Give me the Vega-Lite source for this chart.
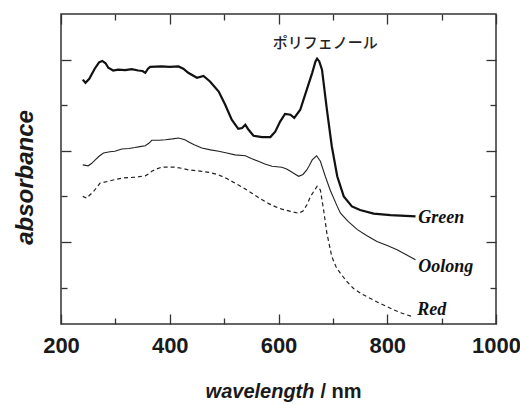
{
  "$schema": "https://vega.github.io/schema/vega-lite/v6.json",
  "width": 435,
  "height": 310,
  "autosize": {"type": "none"},
  "padding": {"left": 61, "top": 14, "right": 24, "bottom": 81},
  "background": "white",
  "config": {
    "view": {"stroke": "#333333", "strokeWidth": 1.5},
    "axis": {"grid": false, "domain": false, "tickColor": "#333333", "tickWidth": 1.3, "labelFlush": false, "labelOverlap": false, "labelBound": false}
  },
  "datasets": {
    "spectra": [
      {"series":"Green","wl":240,"abs":5.36},{"series":"Green","wl":245,"abs":5.29},{"series":"Green","wl":252,"abs":5.38},{"series":"Green","wl":262,"abs":5.6},{"series":"Green","wl":270,"abs":5.74},{"series":"Green","wl":276,"abs":5.77},{"series":"Green","wl":282,"abs":5.72},{"series":"Green","wl":287,"abs":5.62},{"series":"Green","wl":296,"abs":5.56},{"series":"Green","wl":305,"abs":5.58},{"series":"Green","wl":318,"abs":5.57},{"series":"Green","wl":330,"abs":5.59},{"series":"Green","wl":342,"abs":5.56},{"series":"Green","wl":350,"abs":5.55},{"series":"Green","wl":355,"abs":5.51},{"series":"Green","wl":360,"abs":5.6},{"series":"Green","wl":364,"abs":5.64},{"series":"Green","wl":385,"abs":5.65},{"series":"Green","wl":400,"abs":5.64},{"series":"Green","wl":416,"abs":5.65},{"series":"Green","wl":425,"abs":5.6},{"series":"Green","wl":434,"abs":5.51},{"series":"Green","wl":450,"abs":5.4},{"series":"Green","wl":462,"abs":5.44},{"series":"Green","wl":474,"abs":5.32},{"series":"Green","wl":490,"abs":5.1},{"series":"Green","wl":502,"abs":4.81},{"series":"Green","wl":514,"abs":4.48},{"series":"Green","wl":526,"abs":4.28},{"series":"Green","wl":533,"abs":4.3},{"series":"Green","wl":539,"abs":4.37},{"series":"Green","wl":545,"abs":4.26},{"series":"Green","wl":554,"abs":4.13},{"series":"Green","wl":570,"abs":4.1},{"series":"Green","wl":585,"abs":4.1},{"series":"Green","wl":594,"abs":4.22},{"series":"Green","wl":603,"abs":4.44},{"series":"Green","wl":612,"abs":4.61},{"series":"Green","wl":622,"abs":4.59},{"series":"Green","wl":629,"abs":4.52},{"series":"Green","wl":640,"abs":4.7},{"series":"Green","wl":652,"abs":5.14},{"series":"Green","wl":662,"abs":5.51},{"series":"Green","wl":668,"abs":5.76},{"series":"Green","wl":671,"abs":5.82},{"series":"Green","wl":675,"abs":5.76},{"series":"Green","wl":680,"abs":5.58},{"series":"Green","wl":689,"abs":4.7},{"series":"Green","wl":698,"abs":3.9},{"series":"Green","wl":708,"abs":3.24},{"series":"Green","wl":720,"abs":2.8},{"series":"Green","wl":735,"abs":2.58},{"series":"Green","wl":750,"abs":2.5},{"series":"Green","wl":775,"abs":2.42},{"series":"Green","wl":806,"abs":2.39},{"series":"Green","wl":852,"abs":2.36},
      {"series":"Oolong","wl":240,"abs":3.49},{"series":"Oolong","wl":250,"abs":3.47},{"series":"Oolong","wl":256,"abs":3.52},{"series":"Oolong","wl":263,"abs":3.6},{"series":"Oolong","wl":270,"abs":3.68},{"series":"Oolong","wl":278,"abs":3.75},{"series":"Oolong","wl":290,"abs":3.78},{"series":"Oolong","wl":299,"abs":3.79},{"series":"Oolong","wl":312,"abs":3.84},{"series":"Oolong","wl":325,"abs":3.85},{"series":"Oolong","wl":336,"abs":3.87},{"series":"Oolong","wl":345,"abs":3.89},{"series":"Oolong","wl":355,"abs":3.91},{"series":"Oolong","wl":362,"abs":3.97},{"series":"Oolong","wl":367,"abs":4.03},{"series":"Oolong","wl":380,"abs":4.03},{"series":"Oolong","wl":392,"abs":4.04},{"series":"Oolong","wl":405,"abs":4.06},{"series":"Oolong","wl":416,"abs":4.08},{"series":"Oolong","wl":428,"abs":4.04},{"series":"Oolong","wl":434,"abs":4.0},{"series":"Oolong","wl":445,"abs":3.93},{"series":"Oolong","wl":459,"abs":3.86},{"series":"Oolong","wl":475,"abs":3.82},{"series":"Oolong","wl":490,"abs":3.79},{"series":"Oolong","wl":505,"abs":3.75},{"series":"Oolong","wl":520,"abs":3.71},{"series":"Oolong","wl":539,"abs":3.69},{"series":"Oolong","wl":550,"abs":3.63},{"series":"Oolong","wl":563,"abs":3.57},{"series":"Oolong","wl":575,"abs":3.51},{"series":"Oolong","wl":588,"abs":3.46},{"series":"Oolong","wl":606,"abs":3.44},{"series":"Oolong","wl":615,"abs":3.4},{"series":"Oolong","wl":622,"abs":3.35},{"series":"Oolong","wl":630,"abs":3.29},{"series":"Oolong","wl":637,"abs":3.24},{"series":"Oolong","wl":645,"abs":3.28},{"series":"Oolong","wl":652,"abs":3.38},{"series":"Oolong","wl":657,"abs":3.48},{"series":"Oolong","wl":662,"abs":3.6},{"series":"Oolong","wl":670,"abs":3.69},{"series":"Oolong","wl":677,"abs":3.57},{"series":"Oolong","wl":686,"abs":3.24},{"series":"Oolong","wl":695,"abs":2.94},{"series":"Oolong","wl":708,"abs":2.58},{"series":"Oolong","wl":714,"abs":2.43},{"series":"Oolong","wl":728,"abs":2.25},{"series":"Oolong","wl":745,"abs":2.07},{"series":"Oolong","wl":762,"abs":1.94},{"series":"Oolong","wl":781,"abs":1.81},{"series":"Oolong","wl":800,"abs":1.72},{"series":"Oolong","wl":818,"abs":1.63},{"series":"Oolong","wl":835,"abs":1.52},{"series":"Oolong","wl":852,"abs":1.41},
      {"series":"Red","wl":240,"abs":2.8},{"series":"Red","wl":247,"abs":2.76},{"series":"Red","wl":253,"abs":2.83},{"series":"Red","wl":260,"abs":2.91},{"series":"Red","wl":266,"abs":3.0},{"series":"Red","wl":272,"abs":3.09},{"series":"Red","wl":287,"abs":3.13},{"series":"Red","wl":300,"abs":3.17},{"series":"Red","wl":312,"abs":3.2},{"series":"Red","wl":336,"abs":3.22},{"series":"Red","wl":355,"abs":3.25},{"series":"Red","wl":362,"abs":3.3},{"series":"Red","wl":367,"abs":3.35},{"series":"Red","wl":376,"abs":3.4},{"series":"Red","wl":385,"abs":3.44},{"series":"Red","wl":410,"abs":3.44},{"series":"Red","wl":425,"abs":3.41},{"series":"Red","wl":434,"abs":3.38},{"series":"Red","wl":459,"abs":3.35},{"series":"Red","wl":475,"abs":3.32},{"series":"Red","wl":490,"abs":3.27},{"series":"Red","wl":505,"abs":3.19},{"series":"Red","wl":520,"abs":3.09},{"series":"Red","wl":535,"abs":2.99},{"series":"Red","wl":551,"abs":2.87},{"series":"Red","wl":566,"abs":2.75},{"series":"Red","wl":582,"abs":2.64},{"series":"Red","wl":595,"abs":2.57},{"series":"Red","wl":606,"abs":2.52},{"series":"Red","wl":622,"abs":2.47},{"series":"Red","wl":637,"abs":2.43},{"series":"Red","wl":645,"abs":2.48},{"series":"Red","wl":652,"abs":2.61},{"series":"Red","wl":659,"abs":2.8},{"series":"Red","wl":665,"abs":2.91},{"series":"Red","wl":671,"abs":3.02},{"series":"Red","wl":677,"abs":2.94},{"series":"Red","wl":683,"abs":2.5},{"series":"Red","wl":689,"abs":1.99},{"series":"Red","wl":698,"abs":1.48},{"series":"Red","wl":706,"abs":1.25},{"series":"Red","wl":714,"abs":1.11},{"series":"Red","wl":725,"abs":0.94},{"series":"Red","wl":738,"abs":0.78},{"series":"Red","wl":753,"abs":0.66},{"series":"Red","wl":769,"abs":0.56},{"series":"Red","wl":785,"abs":0.46},{"series":"Red","wl":800,"abs":0.38},{"series":"Red","wl":812,"abs":0.31},{"series":"Red","wl":824,"abs":0.25},{"series":"Red","wl":836,"abs":0.2},{"series":"Red","wl":848,"abs":0.16}
    ],
    "labels": [
      {"label":"Green","wl":857,"abs":2.22},
      {"label":"Oolong","wl":857,"abs":1.15},
      {"label":"Red","wl":855,"abs":0.2}
    ],
    "note": [
      {"label":"ポリフェノール","wl":686,"abs":6.17}
    ]
  },
  "layer": [
    {
      "data": {"name": "spectra"},
      "transform": [{"filter": "datum.series === 'Green'"}],
      "mark": {"type": "line", "color": "#111111", "strokeWidth": 2.2, "clip": true},
      "encoding": {
        "x": {"field": "wl", "type": "quantitative", "scale": {"domain": [200, 1000], "nice": false, "zero": false},
          "axis": {"orient": "bottom", "values": [200, 400, 600, 800, 1000], "format": "d", "tickSize": -10, "labelPadding": 38, "labelBaseline": "alphabetic", "labelFont": "Liberation Sans", "labelFontSize": 22, "labelFontWeight": "bold", "labelColor": "#1a1a1a",
            "title": "wavelength", "titleFont": "Liberation Sans", "titleFontSize": 20, "titleFontWeight": "bold", "titleFontStyle": "italic", "titleColor": "#1a1a1a", "titleAlign": "right", "titleAnchor": null, "titleX": 253, "titleY": 73, "titleBaseline": "alphabetic"}},
        "y": {"field": "abs", "type": "quantitative", "scale": {"domain": [0, 6.8], "nice": false, "zero": false},
          "axis": {"orient": "left", "values": [1.8, 3.8, 5.8], "tickSize": -10, "labels": false,
            "title": "absorbance", "titleFont": "Liberation Sans", "titleFontSize": 24, "titleFontWeight": "bold", "titleFontStyle": "italic", "titleColor": "#1a1a1a", "titleAngle": -90, "titleAlign": "center", "titleBaseline": "middle", "titleX": -36, "titleY": 163}}
      }
    },
    {
      "data": {"name": "spectra"},
      "transform": [{"filter": "datum.series === 'Oolong'"}],
      "mark": {"type": "line", "color": "#222222", "strokeWidth": 1.1, "clip": true},
      "encoding": {
        "x": {"field": "wl", "type": "quantitative", "scale": {"domain": [200, 1000], "nice": false, "zero": false},
          "axis": {"orient": "bottom", "values": [300, 500, 700, 900], "tickSize": -6, "labels": false,
            "title": "/ nm", "titleFont": "Liberation Sans", "titleFontSize": 20, "titleFontWeight": "bold", "titleColor": "#1a1a1a", "titleAlign": "left", "titleAnchor": null, "titleX": 259, "titleY": 73, "titleBaseline": "alphabetic"}},
        "y": {"field": "abs", "type": "quantitative", "scale": {"domain": [0, 6.8], "nice": false, "zero": false},
          "axis": {"orient": "left", "values": [0.8, 2.8, 4.8], "tickSize": -6, "labels": false, "title": null}}
      }
    },
    {
      "data": {"name": "spectra"},
      "transform": [{"filter": "datum.series === 'Red'"}],
      "mark": {"type": "line", "color": "#222222", "strokeWidth": 1.2, "strokeDash": [4, 3], "clip": true},
      "encoding": {
        "x": {"field": "wl", "type": "quantitative", "scale": {"domain": [200, 1000], "nice": false, "zero": false},
          "axis": {"orient": "top", "values": [200, 400, 600, 800, 1000], "tickSize": -10, "labels": false, "title": null}},
        "y": {"field": "abs", "type": "quantitative", "scale": {"domain": [0, 6.8], "nice": false, "zero": false},
          "axis": {"orient": "right", "values": [1.8, 3.8, 5.8], "tickSize": -10, "labels": false, "title": null}}
      }
    },
    {
      "data": {"name": "labels"},
      "mark": {"type": "text", "align": "left", "baseline": "alphabetic", "font": "Liberation Serif", "fontSize": 18, "fontWeight": "bold", "fontStyle": "italic", "color": "#111111"},
      "encoding": {
        "x": {"field": "wl", "type": "quantitative", "scale": {"domain": [200, 1000], "nice": false, "zero": false},
          "axis": {"orient": "top", "values": [300, 500, 700, 900], "tickSize": -6, "labels": false, "title": null}},
        "y": {"field": "abs", "type": "quantitative", "scale": {"domain": [0, 6.8], "nice": false, "zero": false},
          "axis": {"orient": "right", "values": [0.8, 2.8, 4.8], "tickSize": -6, "labels": false, "title": null}},
        "text": {"field": "label", "type": "nominal"}
      }
    },
    {
      "data": {"name": "note"},
      "mark": {"type": "text", "align": "center", "baseline": "middle", "font": "Noto Sans CJK JP", "fontSize": 15, "fontWeight": 500, "color": "#222222"},
      "encoding": {
        "x": {"field": "wl", "type": "quantitative", "scale": {"domain": [200, 1000], "nice": false, "zero": false}, "axis": null},
        "y": {"field": "abs", "type": "quantitative", "scale": {"domain": [0, 6.8], "nice": false, "zero": false}, "axis": null},
        "text": {"field": "label", "type": "nominal"}
      }
    }
  ],
  "resolve": {"axis": {"x": "independent", "y": "independent"}}
}
